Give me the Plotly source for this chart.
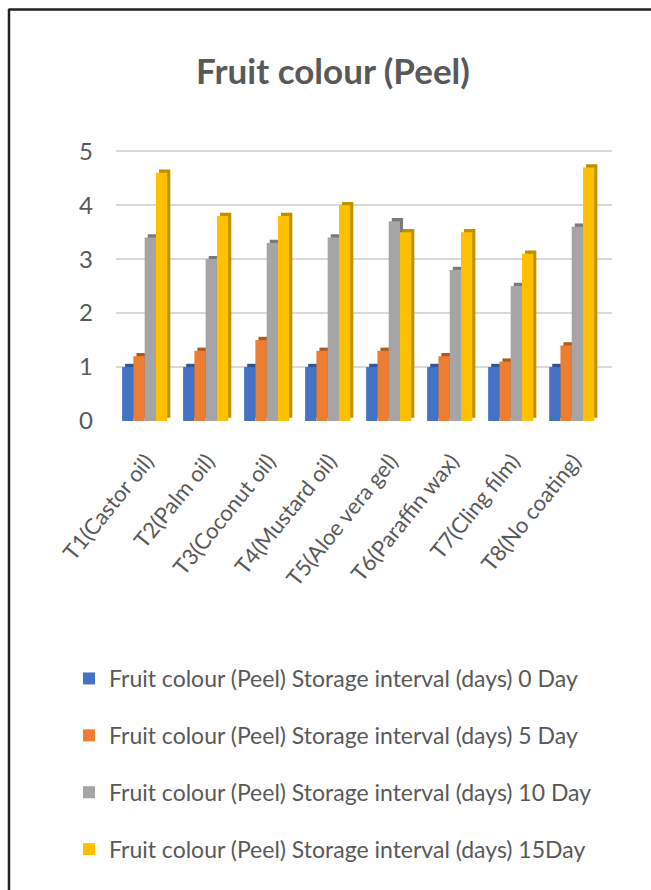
import plotly.graph_objects as go

# Treatments on the x axis
treatments = [
    "T1(Castor oil)", "T2(Palm oil)", "T3(Coconut oil)", "T4(Mustard oil)",
    "T5(Aloe vera gel)", "T6(Paraffin wax)", "T7(Cling film)", "T8(No coating)",
]

# Peel colour score per storage interval
day0 = [1.0, 1.0, 1.0, 1.0, 1.0, 1.0, 1.0, 1.0]
day5 = [1.2, 1.3, 1.5, 1.3, 1.3, 1.2, 1.1, 1.4]
day10 = [3.4, 3.0, 3.3, 3.4, 3.7, 2.8, 2.5, 3.6]
day15 = [4.6, 3.8, 3.8, 4.0, 3.5, 3.5, 3.1, 4.7]

series_names = [
    "Fruit colour (Peel) Storage interval (days) 0 Day",
    "Fruit colour (Peel) Storage interval (days) 5 Day",
    "Fruit colour (Peel) Storage interval (days) 10 Day",
    "Fruit colour (Peel) Storage interval (days) 15Day",
]
y_ticks = [0, 1, 2, 3, 4, 5]

series_values = [day0, day5, day10, day15]
face_colors = ["#4472C4", "#ED7D31", "#A5A5A5", "#FFC000"]
side_colors = ["#2F5597", "#AE5A21", "#7B7B7B", "#BF9000"]

FONT = "Lato, Open Sans, sans-serif"
W, H = 651, 890
L, R, T, B = 116, 39, 135, 469
plot_w = W - L - R
plot_h = H - T - B

BAR_W = 0.185
DEPTH_X = 0.05
DEPTH_Y = 0.06
x_pos = list(range(len(treatments)))

fig = go.Figure()

# depth faces (drawn first, sit behind the front faces)
for i, (name, vals) in enumerate(zip(series_names, series_values)):
    off = -0.40 + i * BAR_W
    fig.add_trace(go.Bar(
        x=x_pos, y=vals, base=DEPTH_Y, offset=off + DEPTH_X, width=BAR_W,
        marker=dict(color=side_colors[i], line=dict(width=0)),
        showlegend=False, hoverinfo="skip", legendgroup=f"g{i}",
    ))

# front faces
for i, (name, vals) in enumerate(zip(series_names, series_values)):
    off = -0.40 + i * BAR_W
    fig.add_trace(go.Bar(
        x=x_pos, y=vals, offset=off, width=BAR_W, name=name,
        marker=dict(color=face_colors[i], line=dict(width=0)),
        legendgroup=f"g{i}",
    ))

def px_x(px):
    return (px - L) / plot_w

def px_y(py):
    return (H - B - py) / plot_h

shapes = [
    # frame around the chart (top and left edges)
    dict(type="line", xref="paper", yref="paper",
         x0=px_x(8.5), x1=px_x(W + 5), y0=px_y(9.5), y1=px_y(9.5),
         line=dict(color="#222222", width=2.5)),
    dict(type="line", xref="paper", yref="paper",
         x0=px_x(9), x1=px_x(9), y0=px_y(9), y1=px_y(H + 5),
         line=dict(color="#222222", width=2.5)),
]

fig.update_layout(
    width=W, height=H,
    margin=dict(l=L, r=R, t=T, b=B),
    paper_bgcolor="white", plot_bgcolor="white",
    barmode="overlay",
    font=dict(family=FONT, color="#595959"),
    title=dict(
        text="<b>Fruit colour (Peel)</b>",
        x=333 / W, xref="container", xanchor="center",
        y=1 - 72 / H, yanchor="middle",
        font=dict(size=35, color="#595959", family=FONT),
    ),
    xaxis=dict(
        range=[-0.5, 7.63],
        tickmode="array", tickvals=x_pos, ticktext=treatments,
        tickangle=-51, tickfont=dict(size=22, color="#595959"),
        showgrid=False, zeroline=False, showline=False, ticks="",
        ticklabelstandoff=22,
    ),
    yaxis=dict(
        range=[0, 5.3], tickvals=y_ticks,
        tickfont=dict(size=24, color="#595959"),
        showgrid=True, gridcolor="#D9D9D9", gridwidth=2,
        zeroline=False, showline=False, ticks="", ticklabelstandoff=22,
    ),
    legend=dict(
        x=px_x(69), xanchor="left", y=px_y(657), yanchor="top",
        font=dict(size=23, color="#595959"),
        tracegroupgap=24, bgcolor="rgba(0,0,0,0)",
    ),
    shapes=shapes,
    showlegend=True,
)

fig.write_html("out.html")
